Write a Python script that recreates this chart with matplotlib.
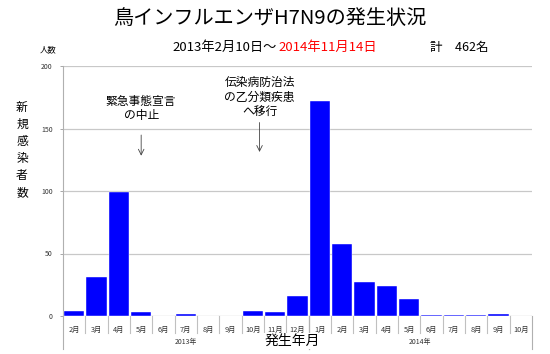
import matplotlib
matplotlib.use('Agg')
import matplotlib.pyplot as plt
from matplotlib.lines import Line2D

plt.rcParams['font.family'] = ['Noto Sans CJK JP', 'DejaVu Sans']

# data
months = ['2月', '3月', '4月', '5月', '6月', '7月', '8月', '9月', '10月', '11月', '12月',
          '1月', '2月', '3月', '4月', '5月', '6月', '7月', '8月', '9月', '10月']
cases = [4, 31, 99, 3, 0, 2, 0, 0, 4, 3, 16,
         172, 58, 27, 24, 14, 1, 1, 1, 2, 0]
years = ['2013年', '2014年']
year_sizes = [11, 10]
y_ticks = [0, 50, 100, 150, 200]

W, H = 550, 354
fig = plt.figure(figsize=(W / 100, H / 100), dpi=100)
ax = fig.add_axes([63 / W, 1 - 316 / H, (532 - 63) / W, (316 - 66) / H])

x = list(range(len(months)))
ax.bar(x, cases, width=0.92, color='#0000ff', edgecolor='white', linewidth=0.3, zorder=3)

ax.set_xlim(-0.5, len(months) - 0.5)
ax.set_ylim(0, 200)
ax.set_yticks(y_ticks)
ax.set_yticklabels([str(t) for t in y_ticks], fontsize=5, color='#333333')
ax.tick_params(axis='y', length=2.5, width=0.6, color='#999999', pad=5)
ax.grid(axis='y', color='#c8c8c8', linewidth=0.9, zorder=0)
for s in ['top', 'right', 'bottom']:
    ax.spines[s].set_visible(False)
ax.spines['left'].set_color('#b0b0b0')
ax.spines['left'].set_linewidth(0.8)
ax.set_xticks([])

# multi-level category axis below the plot
trans = ax.get_xaxis_transform()
ax.axhline(0, color='#b0b0b0', linewidth=0.8, zorder=2)
for i, m in enumerate(months):
    ax.text(i, -0.04, m, transform=trans, ha='center', va='top', fontsize=5.3, color='#333333')
for b in range(1, len(months)):
    ax.add_line(Line2D([b - 0.5, b - 0.5], [0, -0.068], transform=trans,
                       color='#c0c0c0', linewidth=0.8, clip_on=False))
start = 0
for yr, n in zip(years, year_sizes):
    ax.text(start + n / 2 - 0.5, -0.105, yr, transform=trans, ha='center', va='center',
            fontsize=5, color='#333333')
    for b in (start - 0.5, start + n - 0.5):
        ax.add_line(Line2D([b, b], [0, -0.13], transform=trans,
                           color='#b0b0b0', linewidth=0.8, clip_on=False))
    start += n

# annotations
ax.annotate('', xy=(3.0, 126), xytext=(3.0, 147),
            arrowprops=dict(arrowstyle='->', color='#444444', lw=0.6), zorder=5)
ax.text(3.0, 166, '緊急事態宣言\nの中止', ha='center', va='center', fontsize=8.5,
        linespacing=1.2, zorder=5)
ax.annotate('', xy=(8.3, 129), xytext=(8.3, 157),
            arrowprops=dict(arrowstyle='->', color='#444444', lw=0.6), zorder=5)
ax.text(8.3, 175, '伝染病防治法\nの乙分類疾患\nへ移行', ha='center', va='center', fontsize=8.5,
        linespacing=1.2, zorder=5)

# titles and labels
fig.text(270 / W, 1 - 18 / H, '鳥インフルエンザH7N9の発生状況', ha='center', va='center', fontsize=14.5)
fig.text(277 / W, 1 - 47 / H, '2013年2月10日～', ha='right', va='center', fontsize=9.5)
fig.text(278 / W, 1 - 47 / H, '2014年11月14日', ha='left', va='center', fontsize=9.5, color='#ff0000')
fig.text(430 / W, 1 - 47 / H, '計　462名', ha='left', va='center', fontsize=9)
fig.text(48 / W, 1 - 50 / H, '人数', ha='center', va='center', fontsize=6)
fig.text(22 / W, 1 - 150 / H, '\n'.join('新規感染者数'), ha='center', va='center', fontsize=8.5,
         linespacing=1.4)
fig.text(292 / W, 1 - 341 / H, '発生年月', ha='center', va='center', fontsize=10,
         bbox=dict(facecolor='white', edgecolor='none', pad=1))

fig.savefig('out.png', dpi=100)
